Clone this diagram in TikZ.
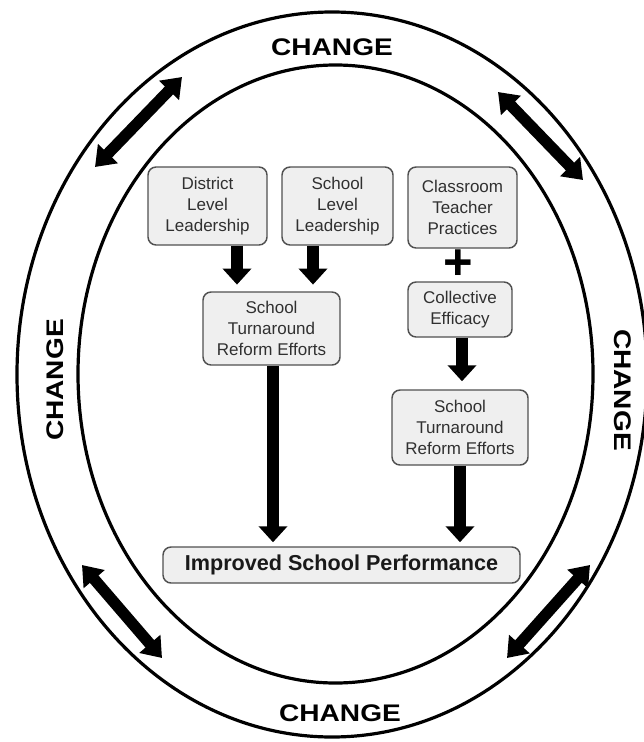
\documentclass[tikz,border=0pt]{standalone}
\usepackage{fontspec}
\setmainfont{Liberation Sans}
\usetikzlibrary{arrows.meta,calc}
\definecolor{boxfill}{HTML}{EFEFEF}
\definecolor{boxline}{HTML}{505050}
\definecolor{boxtext}{HTML}{303030}
\tikzset{
  box/.style={draw=boxline, fill=boxfill, line width=1.1pt, rounded corners=6pt,
    align=center, text=boxtext, inner sep=2pt,
    font=\fontsize{12.75pt}{15.75pt}\selectfont},
  downarrow/.style={line width=9.5pt, -{Triangle[width=21pt,length=12pt]}},
  twoway/.style={line width=8.5pt, {Triangle[width=20pt,length=14pt]}-{Triangle[width=20pt,length=14pt]}},
  ring/.style={line width=2.4pt},
  changelbl/.style={font=\fontsize{18pt}{20pt}\selectfont\bfseries, inner sep=0pt}
}
\newcommand{\chg}{\scalebox{1.17}[1]{CHANGE}}
\begin{document}
\begin{tikzpicture}[x=0.75pt,y=-0.75pt]
\useasboundingbox (0,0) rectangle (643,742);
% rings
\draw[ring] (332,374.5) ellipse [x radius=315, y radius=362.5];
\draw[ring] (335.5,374) ellipse [x radius=257.5, y radius=309];
% CHANGE labels
\node[changelbl] (ctop) at (332,47) {\chg};
\node[changelbl] (cbot) at (340,713) {\chg};
\node[changelbl, rotate=90] (cleft) at (55,380) {\chg};
\node[changelbl, rotate=-90] (cright) at (623,390) {\chg};
% two-way arrows
\coordinate (tla) at (95,167); \coordinate (tlb) at (182,77);
\coordinate (tra) at (498,92); \coordinate (trb) at (583,180);
\coordinate (bla) at (82,565); \coordinate (blb) at (162,658);
\coordinate (bra) at (590,565); \coordinate (brb) at (507,658);
\draw[twoway] (tla) -- (tlb);
\draw[twoway] (tra) -- (trb);
\draw[twoway] (bla) -- (blb);
\draw[twoway] (bra) -- (brb);
% boxes
\node[box, minimum width=89.25pt, minimum height=58.5pt] (dist) at (207.5,206) {District\\Level\\Leadership};
\node[box, minimum width=83.25pt, minimum height=58.5pt] (sll) at (337.5,206) {School\\Level\\Leadership};
\node[box, minimum width=81.75pt, minimum height=60.75pt] (ctp) at (462.5,207.5) {Classroom\\Teacher\\Practices};
\node[box, minimum width=78pt, minimum height=41.25pt] (ce) at (460,309.5) {Collective\\Efficacy};
\node[box, minimum width=102.75pt, minimum height=54.75pt] (trl) at (271.5,328.5) {School\\Turnaround\\Reform Efforts};
\node[box, minimum width=102pt, minimum height=56.25pt] (trr) at (460,427.5) {School\\Turnaround\\Reform Efforts};
\node[box, minimum width=267.75pt, minimum height=27pt, font=\fontsize{16.2pt}{18pt}\selectfont\bfseries, text=black!90] (isp) at (341.5,565) {Improved School Performance};
\node[font=\fontsize{38pt}{38pt}\selectfont\bfseries, inner sep=0pt] (plus) at (458,265) {+};
% arrows
\coordinate (xa) at (237,0);
\coordinate (xb) at (313,0);
\coordinate (xc) at (462,0);
\coordinate (xd) at (273,0);
\coordinate (xe) at (460,0);
\draw[downarrow, shorten >=5pt] (dist.south -| xa) -- (trl.north -| xa);
\draw[downarrow, shorten >=5pt] (sll.south -| xb) -- (trl.north -| xb);
\draw[downarrow, shorten >=6pt] (ce.south -| xc) -- (trr.north -| xc);
\draw[downarrow, shorten >=3pt] (trl.south -| xd) -- (isp.north -| xd);
\draw[downarrow, shorten >=3pt] (trr.south -| xe) -- (isp.north -| xe);
\end{tikzpicture}
\end{document}
